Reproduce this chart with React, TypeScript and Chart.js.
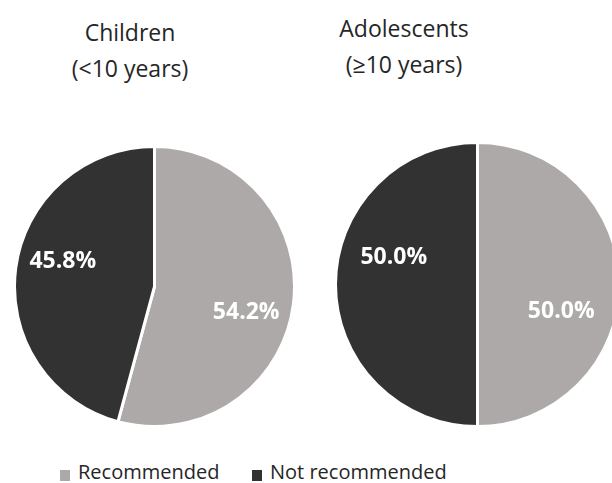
import React, { useEffect, useRef } from "react";
import { Chart, registerables } from "chart.js";
Chart.register(...registerables);

const categories = ["Recommended", "Not recommended"];
const childrenValues = [54.2, 45.8];
const adolescentValues = [50.0, 50.0];
const sliceColors = ["#ADA9A9", "#333232"];
const childrenTitle = ["Children", "(<10 years)"];
const adolescentTitle = ["Adolescents", "(≥10 years)"];

const FONT = "'Open Sans', 'Noto Sans', sans-serif";

const labelPlugin = {
  id: "pieLabels",
  afterDatasetsDraw(chart: any, _args: any, opts: any) {
    const ctx = chart.ctx;
    const meta = chart.getDatasetMeta(0);
    const data = chart.data.datasets[0].data as number[];
    ctx.save();
    ctx.font = `bold 23px ${FONT}`;
    ctx.fillStyle = "#ffffff";
    ctx.textAlign = "center";
    ctx.textBaseline = "middle";
    meta.data.forEach((arc: any, i: number) => {
      const p = arc.getProps(["x", "y", "startAngle", "endAngle", "outerRadius"], true);
      const a = (p.startAngle + p.endAngle) / 2 + (opts.angleOffset * Math.PI) / 180;
      const r = p.outerRadius * opts.radiusFraction;
      ctx.fillText(data[i].toFixed(1) + "%", p.x + Math.cos(a) * r, p.y + Math.sin(a) * r);
    });
    ctx.restore();
  },
};

function Pie(props: {
  values: number[];
  left: number;
  top: number;
  size: number;
  angleOffset: number;
  radiusFraction: number;
}) {
  const ref = useRef<HTMLCanvasElement | null>(null);
  useEffect(() => {
    if (!ref.current) return;
    const chart = new Chart(ref.current, {
      type: "pie",
      data: {
        labels: categories,
        datasets: [
          {
            data: props.values,
            backgroundColor: sliceColors,
            borderColor: "#ffffff",
            borderWidth: 3,
          },
        ],
      },
      options: {
        responsive: false,
        animation: false,
        layout: { padding: 0 },
        plugins: {
          legend: { display: false },
          title: { display: false },
          tooltip: { enabled: false },
          // @ts-ignore
          pieLabels: { angleOffset: props.angleOffset, radiusFraction: props.radiusFraction },
        },
      },
      plugins: [labelPlugin as any],
    });
    return () => chart.destroy();
  }, []);
  return (
    <div style={{ position: "absolute", left: props.left, top: props.top, width: props.size, height: props.size }}>
      <canvas ref={ref} width={props.size} height={props.size} style={{ width: props.size, height: props.size }} />
    </div>
  );
}

function Title(props: { lines: string[]; cx: number; top: number }) {
  return (
    <div
      style={{
        position: "absolute",
        left: props.cx - 150,
        top: props.top,
        width: 300,
        textAlign: "center",
        fontFamily: FONT,
        fontSize: 23,
        lineHeight: "36px",
        color: "#262626",
        whiteSpace: "nowrap",
      }}
    >
      {props.lines.map((l, i) => (
        <div key={i}>{l}</div>
      ))}
    </div>
  );
}

function LegendItem(props: { label: string; color: string; left: number }) {
  return (
    <div
      style={{
        position: "absolute",
        left: props.left,
        top: 460,
        display: "flex",
        alignItems: "center",
        fontFamily: FONT,
        fontSize: 20,
        lineHeight: "24px",
        color: "#262626",
        whiteSpace: "nowrap",
      }}
    >
      <span style={{ display: "inline-block", width: 10, height: 11, background: props.color, marginRight: 8, marginTop: 6 }} />
      <span>{props.label}</span>
    </div>
  );
}

export default function App() {
  return (
    <div
      style={{
        position: "fixed",
        left: 0,
        top: 0,
        width: 612,
        height: 483,
        overflow: "hidden",
        background: "#ffffff",
      }}
    >
      <Title lines={childrenTitle} cx={130} top={14} />
      <Title lines={adolescentTitle} cx={404} top={10} />
      <Pie values={childrenValues} left={13} top={145} size={283} angleOffset={8} radiusFraction={0.68} />
      <Pie values={adolescentValues} left={334} top={141} size={287} angleOffset={18} radiusFraction={0.62} />
      <LegendItem label={categories[0]} color={sliceColors[0]} left={60} />
      <LegendItem label={categories[1]} color={sliceColors[1]} left={252} />
    </div>
  );
}
